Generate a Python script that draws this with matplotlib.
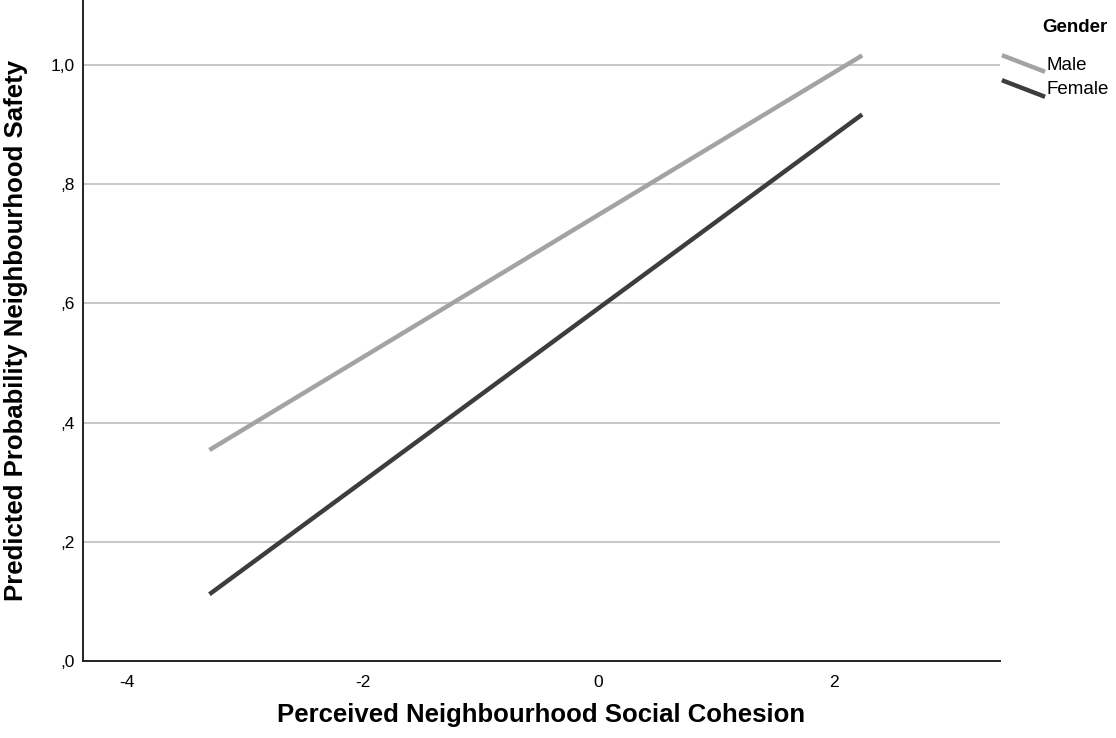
import matplotlib
matplotlib.use("Agg")
import matplotlib.pyplot as plt
from matplotlib.lines import Line2D

plt.rcParams['font.family'] = ['Liberation Sans', 'DejaVu Sans']

# Data
cohesion = [-3.30, 2.24]
male_prob = [0.354, 1.016]
female_prob = [0.112, 0.917]
series_names = ["Male", "Female"]
series_colors = ["#a3a3a3", "#3d3d3d"]
y_ticks = [0.0, 0.2, 0.4, 0.6, 0.8, 1.0]
y_tick_labels = [",0", ",2", ",4", ",6", ",8", "1,0"]
x_ticks = [-4, -2, 0, 2]
x_tick_labels = ["-4", "-2", "0", "2"]

fig = plt.figure(figsize=(11.16, 7.38), dpi=100)
ax = fig.add_axes([83/1116, 1 - 661/738, (1000-83)/1116, 661/738])

for yv in y_ticks[1:]:
    ax.axhline(yv, color="#bdbdbd", lw=1.2, zorder=1)

ax.plot(cohesion, male_prob, color=series_colors[0], lw=3.2, solid_capstyle='butt', zorder=3)
ax.plot(cohesion, female_prob, color=series_colors[1], lw=3.2, solid_capstyle='butt', zorder=3)

ax.set_xlim(-4.373, 3.41)
ax.set_ylim(0, 1.109)
ax.set_yticks(y_ticks)
ax.set_yticklabels(y_tick_labels)
ax.set_xticks(x_ticks)
ax.set_xticklabels(x_tick_labels)
ax.tick_params(length=0, labelsize=12.5, colors="#000000")
ax.tick_params(axis='y', pad=6)
ax.tick_params(axis='x', pad=10)
for s in ["top", "right"]:
    ax.spines[s].set_visible(False)
for s in ["left", "bottom"]:
    ax.spines[s].set_linewidth(1.4)
    ax.spines[s].set_color("#222222")

ax.set_xlabel("Perceived Neighbourhood Social Cohesion", fontsize=18.5, fontweight='bold', va='center')
ax.xaxis.set_label_coords(0.5, (661 - 715) / 661)
ax.set_ylabel("Predicted Probability Neighbourhood Safety", fontsize=18.5, fontweight='bold', va='center')
ax.yaxis.set_label_coords((16 - 83) / 917, 0.5)

# Legend (manual, SPSS style)
fig.text(1075/1116, 1 - 27/738, "Gender", fontsize=13.5, fontweight='bold', ha='center', va='center')
leg_y = [65, 90]
for name, col, yy in zip(series_names, series_colors, leg_y):
    fig.add_artist(Line2D([1004/1116, 1043/1116], [1 - (yy-9)/738, 1 - (yy+6)/738],
                          color=col, lw=3.2, transform=fig.transFigure))
    fig.text(1047/1116, 1 - yy/738, name, fontsize=13.5, ha='left', va='center')

fig.savefig("out.png", dpi=100)
